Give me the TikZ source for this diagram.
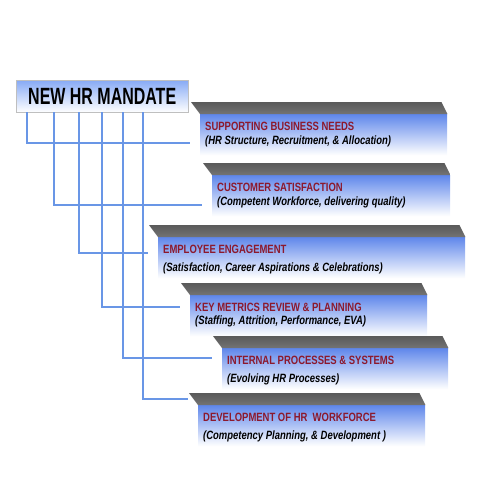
\documentclass[tikz,border=0pt]{standalone}
\usepackage{fontspec}
\usetikzlibrary{calc}

\newfontfamily\titlefont{Liberation Sans}[FakeStretch=0.68]
\newfontfamily\boxfont{Liberation Sans}[FakeStretch=0.79]

\definecolor{faceblue}{RGB}{95,135,235}
\definecolor{titleblue}{RGB}{135,170,245}
\definecolor{linkblue}{RGB}{105,150,230}
\definecolor{headred}{RGB}{140,25,45}
\definecolor{topgray}{RGB}{90,90,90}

\tikzset{
    titlebox/.style={shade, top color=titleblue, bottom color=white, draw=black!25,
        inner sep=0pt, font=\titlefont\bfseries\fontsize{23.5}{23.5}\selectfont},
    front/.style={shade, top color=faceblue, bottom color=white, draw=none,
        inner sep=0pt, minimum height=41pt},
    topface/.style={top color=topgray, bottom color=topgray!85!white},
    headtext/.style={inner sep=0pt, text=headred, font=\boxfont\bfseries\fontsize{12}{14}\selectfont},
    subtext/.style={inner sep=0pt, font=\boxfont\bfseries\itshape\fontsize{12}{14}\selectfont},
    link/.style={draw=linkblue, line width=1.5pt}
}

\begin{document}
\begin{tikzpicture}[x=1pt,y=-1pt]
    \useasboundingbox (0,0) rectangle (480,480);

    % Mandate box on top
    \node[titlebox, minimum width=172pt, minimum height=32pt, anchor=north west] (title) at (16,80) {NEW HR MANDATE};

    % Connectors: drop from the mandate box, then run right to each box
    \foreach \i/\x/\y in {1/27/143, 2/54/205, 3/79/253, 4/102/307, 5/123/358, 6/143/399} {
        \coordinate (d\i) at (\x,\y);
    }

    % Boxes: index / left / right / top / gap between lines / heading / details
    \foreach \i/\lx/\rx/\ty/\gap/\head/\sub in {
        1/200/447/114/14/{SUPPORTING BUSINESS NEEDS}/{(HR Structure, Recruitment, \& Allocation)},
        2/212/450/175/14/{CUSTOMER SATISFACTION}/{(Competent Workforce, delivering quality)},
        3/158/465/237/18/{EMPLOYEE ENGAGEMENT}/{(Satisfaction, Career Aspirations \& Celebrations)},
        4/190/427/295/13/{KEY METRICS REVIEW \& PLANNING}/{(Staffing, Attrition, Performance, EVA)},
        5/222/448/348/18/{INTERNAL PROCESSES \& SYSTEMS}/{(Evolving HR Processes)},
        6/198/425/405/18/{DEVELOPMENT OF HR\ \ WORKFORCE}/{(Competency Planning, \& Development )}
    } {
        \pgfmathsetmacro\boxw{\rx - \lx}
        \node[front, minimum width=\boxw pt, anchor=north west] (b\i) at (\lx,\ty) {};
        % dark top face
        \shade[topface] (b\i.north west) -- ([shift={(-9pt,12pt)}]b\i.north west)
            -- ([shift={(-6pt,12pt)}]b\i.north east) -- (b\i.north east) -- cycle;
        \node[headtext, anchor=base west] (h\i) at ([shift={(5pt,-16pt)}]b\i.north west) {\head};
        \node[subtext, anchor=base west] (s\i) at ([yshift=-\gap pt]h\i.base west) {\sub};
    }

    \foreach \i in {1,...,6} {
        \draw[link] (title.south -| d\i) |- ([xshift=-10pt]b\i.west |- d\i);
    }
\end{tikzpicture}
\end{document}
